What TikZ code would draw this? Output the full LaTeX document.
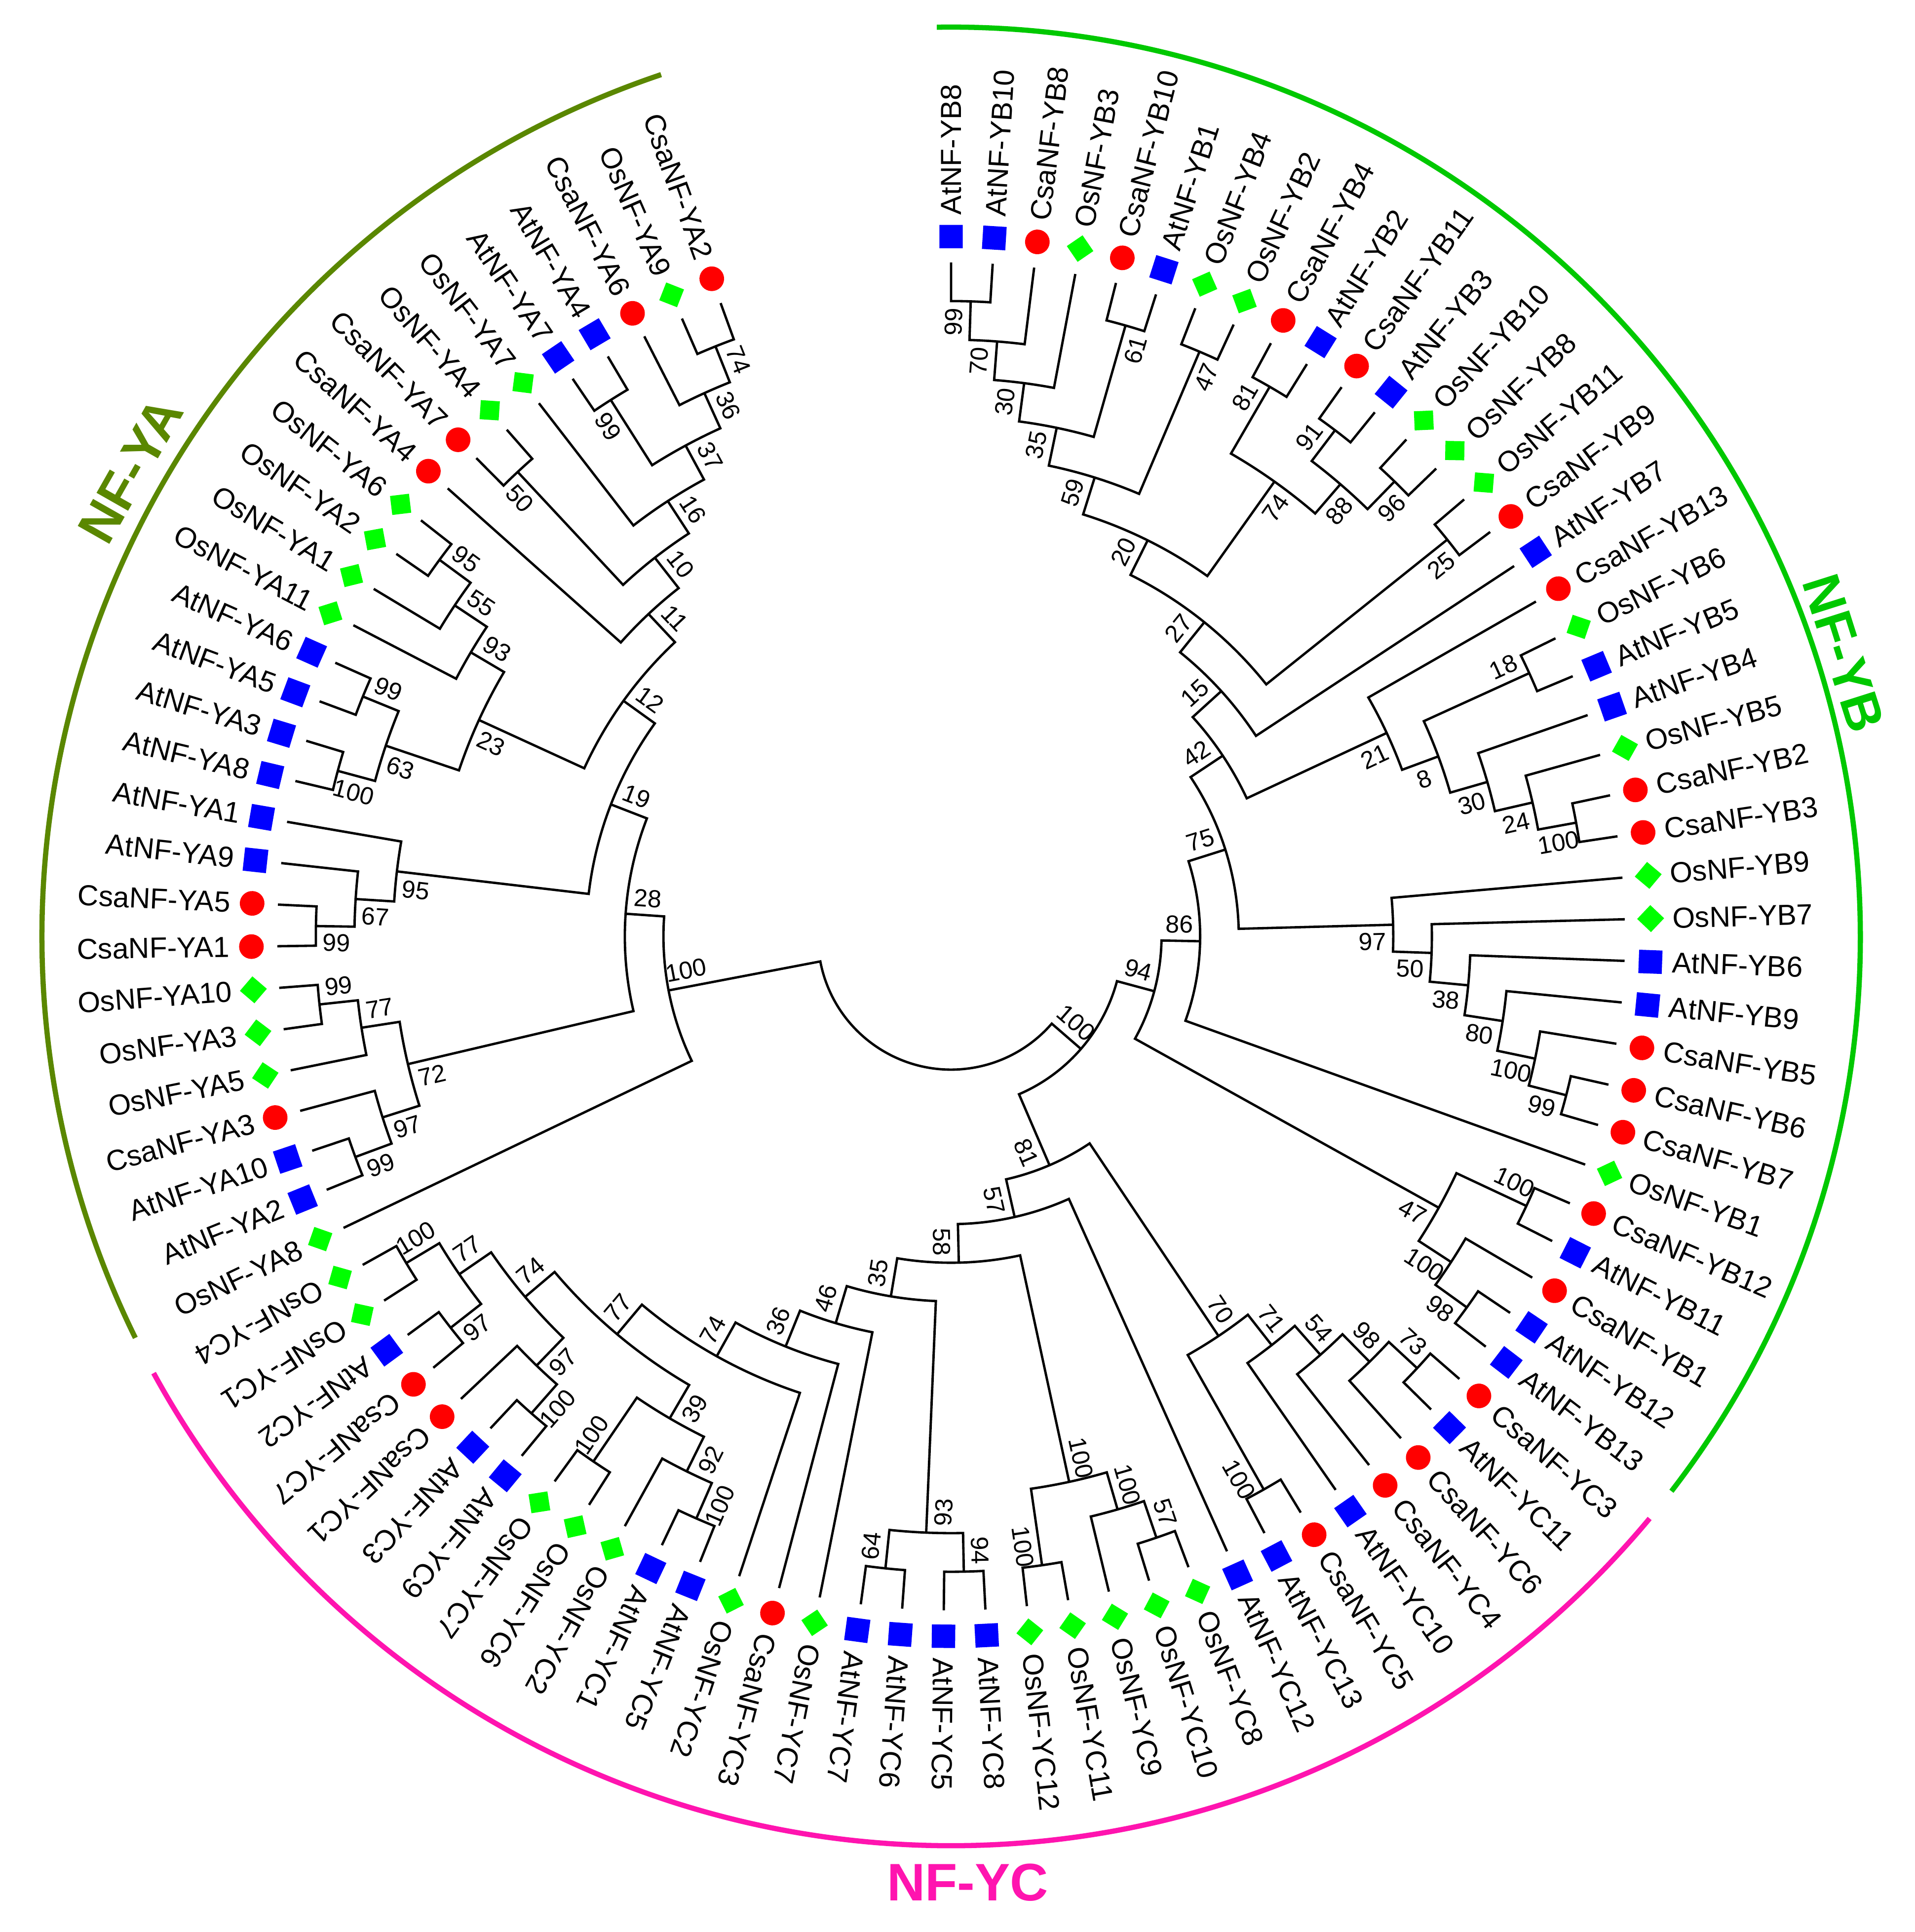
\documentclass[tikz,border=0pt]{standalone}
\usepackage{fontspec}
\setmainfont{Liberation Sans}
\usepackage{xcolor}
\usepackage{tikz}

\definecolor{atblue}{RGB}{0,0,255}
\definecolor{csred}{RGB}{255,0,0}
\definecolor{osgreen}{RGB}{0,255,0}
\definecolor{yacol}{RGB}{90,135,0}
\definecolor{ybcol}{RGB}{0,200,0}
\definecolor{yccol}{RGB}{255,20,175}

\tikzset{
  branch/.style={line width=0.55pt, black},
  leaflabel/.style={font=\fontsize{6.7}{8}\selectfont, inner sep=0pt},
  bootlabel/.style={font=\fontsize{5.7}{6.8}\selectfont, inner sep=1.6pt},
  cladearc/.style={line width=1.2pt},
  cladelabel/.style={font=\fontsize{12.2}{14}\selectfont\bfseries, inner sep=0pt},
  atmark/.style={shape=rectangle, fill=atblue, minimum size=0.19cm, inner sep=0pt},
  csmark/.style={shape=circle, fill=csred, minimum size=0.2cm, inner sep=0pt},
  osmark/.style={shape=rectangle, fill=osgreen, minimum size=0.155cm, inner sep=0pt, rotate=45}
}

% leaf: index, species, label
\newcommand{\tleaf}[3]{%
  \pgfmathsetmacro{\la}{110+(#1-1)*3.5417}%
  \expandafter\xdef\csname ang@L#1\endcsname{\la}%
  \expandafter\xdef\csname lev@L#1\endcsname{0}%
  \expandafter\xdef\csname bs@L#1\endcsname{}%
  \coordinate (L#1) at (\la:5.47);
  \node[#2mark, rotate=\la] (m#1) at (\la:5.68) {};
  \ifdim\la pt<207pt
    \pgfmathsetmacro{\lr}{\la-180}%
    \node[leaflabel, anchor=east, rotate=\lr] (t#1) at (\la:5.85) {#3};
  \else
    \node[leaflabel, anchor=west, rotate=\la] (t#1) at (\la:5.85) {#3};
  \fi}

% bootstrap value beside a child stem: child, angle, side (1 ccw, -1 cw)
\newcommand{\bootlab}[3]{%
  \edef\bsT{\csname bs@#1\endcsname}%
  \ifx\bsT\empty\else
    \pgfmathsetmacro{\bsR}{5.30-0.3135*\csname lev@#1\endcsname}%
    \ifdim#2pt<270pt
      \pgfmathsetmacro{\bsRot}{#2-180}%
      \ifnum#3>0 \def\bsAnc{north}\else\def\bsAnc{south}\fi
    \else
      \edef\bsRot{#2}%
      \ifnum#3>0 \def\bsAnc{south}\else\def\bsAnc{north}\fi
    \fi
    \node[bootlabel, rotate=\bsRot, anchor=\bsAnc] (b#1) at (#2:\bsR) {\bsT};
  \fi}

% inner node: name, lower child, upper child, bootstrap
\newcommand{\tnode}[4]{%
  \edef\tnA{\csname ang@#2\endcsname}%
  \edef\tnB{\csname ang@#3\endcsname}%
  \pgfmathsetmacro{\tnM}{(\tnA+\tnB)/2}%
  \pgfmathtruncatemacro{\tnL}{max(\csname lev@#2\endcsname,\csname lev@#3\endcsname)+1}%
  \pgfmathsetmacro{\tnR}{5.47-0.3135*\tnL}%
  \expandafter\xdef\csname ang@#1\endcsname{\tnM}%
  \expandafter\xdef\csname lev@#1\endcsname{\tnL}%
  \expandafter\xdef\csname bs@#1\endcsname{#4}%
  \coordinate (#1) at (\tnM:\tnR);
  \draw[branch] (#2) -- (\tnA:\tnR) arc[start angle=\tnA, end angle=\tnB, radius=\tnR] -- (#3);
  \bootlab{#2}{\tnA}{-1}%
  \bootlab{#3}{\tnB}{1}}

\begin{document}
\begin{tikzpicture}
\useasboundingbox (-7.72,-8.08) rectangle (7.82,7.60);

% leaves
\tleaf{1}{cs}{CsaNF-YA2}
\tleaf{2}{os}{OsNF-YA9}
\tleaf{3}{cs}{CsaNF-YA6}
\tleaf{4}{at}{AtNF-YA4}
\tleaf{5}{at}{AtNF-YA7}
\tleaf{6}{os}{OsNF-YA7}
\tleaf{7}{os}{OsNF-YA4}
\tleaf{8}{cs}{CsaNF-YA7}
\tleaf{9}{cs}{CsaNF-YA4}
\tleaf{10}{os}{OsNF-YA6}
\tleaf{11}{os}{OsNF-YA2}
\tleaf{12}{os}{OsNF-YA1}
\tleaf{13}{os}{OsNF-YA11}
\tleaf{14}{at}{AtNF-YA6}
\tleaf{15}{at}{AtNF-YA5}
\tleaf{16}{at}{AtNF-YA3}
\tleaf{17}{at}{AtNF-YA8}
\tleaf{18}{at}{AtNF-YA1}
\tleaf{19}{at}{AtNF-YA9}
\tleaf{20}{cs}{CsaNF-YA5}
\tleaf{21}{cs}{CsaNF-YA1}
\tleaf{22}{os}{OsNF-YA10}
\tleaf{23}{os}{OsNF-YA3}
\tleaf{24}{os}{OsNF-YA5}
\tleaf{25}{cs}{CsaNF-YA3}
\tleaf{26}{at}{AtNF-YA10}
\tleaf{27}{at}{AtNF-YA2}
\tleaf{28}{os}{OsNF-YA8}
\tleaf{29}{os}{OsNF-YC4}
\tleaf{30}{os}{OsNF-YC1}
\tleaf{31}{at}{AtNF-YC2}
\tleaf{32}{cs}{CsaNF-YC7}
\tleaf{33}{cs}{CsaNF-YC1}
\tleaf{34}{at}{AtNF-YC3}
\tleaf{35}{at}{AtNF-YC9}
\tleaf{36}{os}{OsNF-YC7}
\tleaf{37}{os}{OsNF-YC6}
\tleaf{38}{os}{OsNF-YC2}
\tleaf{39}{at}{AtNF-YC1}
\tleaf{40}{at}{AtNF-YC5}
\tleaf{41}{os}{OsNF-YC2}
\tleaf{42}{cs}{CsaNF-YC3}
\tleaf{43}{os}{OsNF-YC7}
\tleaf{44}{at}{AtNF-YC7}
\tleaf{45}{at}{AtNF-YC6}
\tleaf{46}{at}{AtNF-YC5}
\tleaf{47}{at}{AtNF-YC8}
\tleaf{48}{os}{OsNF-YC12}
\tleaf{49}{os}{OsNF-YC11}
\tleaf{50}{os}{OsNF-YC9}
\tleaf{51}{os}{OsNF-YC10}
\tleaf{52}{os}{OsNF-YC8}
\tleaf{53}{at}{AtNF-YC12}
\tleaf{54}{at}{AtNF-YC13}
\tleaf{55}{cs}{CsaNF-YC5}
\tleaf{56}{at}{AtNF-YC10}
\tleaf{57}{cs}{CsaNF-YC4}
\tleaf{58}{cs}{CsaNF-YC6}
\tleaf{59}{at}{AtNF-YC11}
\tleaf{60}{cs}{CsaNF-YC3}
\tleaf{61}{at}{AtNF-YB13}
\tleaf{62}{at}{AtNF-YB12}
\tleaf{63}{cs}{CsaNF-YB1}
\tleaf{64}{at}{AtNF-YB11}
\tleaf{65}{cs}{CsaNF-YB12}
\tleaf{66}{os}{OsNF-YB1}
\tleaf{67}{cs}{CsaNF-YB7}
\tleaf{68}{cs}{CsaNF-YB6}
\tleaf{69}{cs}{CsaNF-YB5}
\tleaf{70}{at}{AtNF-YB9}
\tleaf{71}{at}{AtNF-YB6}
\tleaf{72}{os}{OsNF-YB7}
\tleaf{73}{os}{OsNF-YB9}
\tleaf{74}{cs}{CsaNF-YB3}
\tleaf{75}{cs}{CsaNF-YB2}
\tleaf{76}{os}{OsNF-YB5}
\tleaf{77}{at}{AtNF-YB4}
\tleaf{78}{at}{AtNF-YB5}
\tleaf{79}{os}{OsNF-YB6}
\tleaf{80}{cs}{CsaNF-YB13}
\tleaf{81}{at}{AtNF-YB7}
\tleaf{82}{cs}{CsaNF-YB9}
\tleaf{83}{os}{OsNF-YB11}
\tleaf{84}{os}{OsNF-YB8}
\tleaf{85}{os}{OsNF-YB10}
\tleaf{86}{at}{AtNF-YB3}
\tleaf{87}{cs}{CsaNF-YB11}
\tleaf{88}{at}{AtNF-YB2}
\tleaf{89}{cs}{CsaNF-YB4}
\tleaf{90}{os}{OsNF-YB2}
\tleaf{91}{os}{OsNF-YB4}
\tleaf{92}{at}{AtNF-YB1}
\tleaf{93}{cs}{CsaNF-YB10}
\tleaf{94}{os}{OsNF-YB3}
\tleaf{95}{cs}{CsaNF-YB8}
\tleaf{96}{at}{AtNF-YB10}
\tleaf{97}{at}{AtNF-YB8}

% NF-YA
\tnode{yaA}{L1}{L2}{74}
\tnode{yaB}{yaA}{L3}{36}
\tnode{yaC}{L4}{L5}{99}
\tnode{yaD}{yaB}{yaC}{37}
\tnode{yaE}{yaD}{L6}{16}
\tnode{yaF}{L7}{L8}{50}
\tnode{yaG}{yaE}{yaF}{10}
\tnode{yaH}{yaG}{L9}{11}
\tnode{yaI}{L10}{L11}{95}
\tnode{yaJ}{yaI}{L12}{55}
\tnode{yaK}{yaJ}{L13}{93}
\tnode{yaL}{L14}{L15}{99}
\tnode{yaM}{L16}{L17}{100}
\tnode{yaN}{yaL}{yaM}{63}
\tnode{yaO}{yaK}{yaN}{23}
\tnode{yaP}{yaH}{yaO}{12}
\tnode{yaQ}{L20}{L21}{99}
\tnode{yaR}{L19}{yaQ}{67}
\tnode{yaS}{L18}{yaR}{95}
\tnode{yaT}{yaP}{yaS}{19}
\tnode{yaU}{L22}{L23}{99}
\tnode{yaV}{yaU}{L24}{77}
\tnode{yaW}{L26}{L27}{99}
\tnode{yaX}{L25}{yaW}{97}
\tnode{yaY}{yaV}{yaX}{72}
\tnode{yaZ}{yaT}{yaY}{28}
\tnode{ya}{yaZ}{L28}{100}

% NF-YC
\tnode{ycA}{L29}{L30}{100}
\tnode{ycB}{L31}{L32}{97}
\tnode{ycC}{ycA}{ycB}{77}
\tnode{ycD}{L34}{L35}{100}
\tnode{ycE}{L33}{ycD}{97}
\tnode{ycF}{ycC}{ycE}{74}
\tnode{ycG}{L36}{L37}{100}
\tnode{ycH}{L39}{L40}{100}
\tnode{ycI}{L38}{ycH}{92}
\tnode{ycJ}{ycG}{ycI}{39}
\tnode{ycK}{ycF}{ycJ}{77}
\tnode{ycL}{ycK}{L41}{74}
\tnode{ycM}{ycL}{L42}{36}
\tnode{ycN}{ycM}{L43}{46}
\tnode{ycO}{L44}{L45}{64}
\tnode{ycP}{L46}{L47}{94}
\tnode{ycQ}{ycO}{ycP}{93}
\tnode{ycR}{ycN}{ycQ}{35}
\tnode{ycS}{L48}{L49}{100}
\tnode{ycT}{L51}{L52}{57}
\tnode{ycU}{L50}{ycT}{100}
\tnode{ycV}{ycS}{ycU}{100}
\tnode{ycW}{ycR}{ycV}{58}
\tnode{ycX}{ycW}{L53}{57}
\tnode{ycY}{L54}{L55}{100}
\tnode{ycZ}{L59}{L60}{73}
\tnode{yc1}{L58}{ycZ}{98}
\tnode{yc2}{L57}{yc1}{54}
\tnode{yc3}{L56}{yc2}{71}
\tnode{yc4}{ycY}{yc3}{70}
\tnode{yc}{ycX}{yc4}{81}

% NF-YB
\tnode{ybA}{L61}{L62}{98}
\tnode{ybB}{ybA}{L63}{100}
\tnode{ybC}{L64}{L65}{100}
\tnode{ybD}{ybB}{ybC}{47}
\tnode{ybE}{L67}{L68}{99}
\tnode{ybF}{ybE}{L69}{100}
\tnode{ybG}{ybF}{L70}{80}
\tnode{ybH}{ybG}{L71}{38}
\tnode{ybI}{ybH}{L72}{50}
\tnode{ybJ}{ybI}{L73}{97}
\tnode{ybK}{L74}{L75}{100}
\tnode{ybL}{ybK}{L76}{24}
\tnode{ybM}{ybL}{L77}{30}
\tnode{ybN}{L78}{L79}{18}
\tnode{ybO}{ybM}{ybN}{8}
\tnode{ybP}{ybO}{L80}{21}
\tnode{ybQ}{L82}{L83}{25}
\tnode{ybR}{L84}{L85}{96}
\tnode{ybS}{L86}{L87}{91}
\tnode{ybT}{ybR}{ybS}{88}
\tnode{ybU}{L88}{L89}{81}
\tnode{ybV}{ybT}{ybU}{74}
\tnode{ybW}{L90}{L91}{47}
\tnode{ybX}{L92}{L93}{61}
\tnode{ybY}{L96}{L97}{99}
\tnode{ybZ}{L95}{ybY}{70}
\tnode{yb1}{L94}{ybZ}{30}
\tnode{yb2}{ybX}{yb1}{35}
\tnode{yb3}{ybW}{yb2}{59}
\tnode{yb4}{ybV}{yb3}{20}
\tnode{yb5}{ybQ}{yb4}{27}
\tnode{yb6}{L81}{yb5}{15}
\tnode{yb7}{ybP}{yb6}{42}
\tnode{yb8}{ybJ}{yb7}{75}
\tnode{yb9}{L66}{yb8}{86}
\tnode{yb0}{ybD}{yb9}{94}

% root
\tnode{bc}{yc}{yb0}{100}
\tnode{root}{ya}{bc}{}

% clades
\draw[cladearc, yacol] (108.6:7.38) arc[start angle=108.6, end angle=206.2, radius=7.38];
\draw[cladearc, yccol] (208.7:7.38) arc[start angle=208.7, end angle=320.2, radius=7.38];
\draw[cladearc, ybcol] (322.4:7.38) arc[start angle=322.4, end angle=450.9, radius=7.38];
\node[cladelabel, text=yacol, rotate=60.4] (cA) at (150.4:7.66) {NF-YA};
\node[cladelabel, text=ybcol, rotate=-72.4] (cB) at (17.6:7.60) {NF-YB};
\node[cladelabel, text=yccol] (cC) at (-89:7.68) {NF-YC};
\end{tikzpicture}
\end{document}
